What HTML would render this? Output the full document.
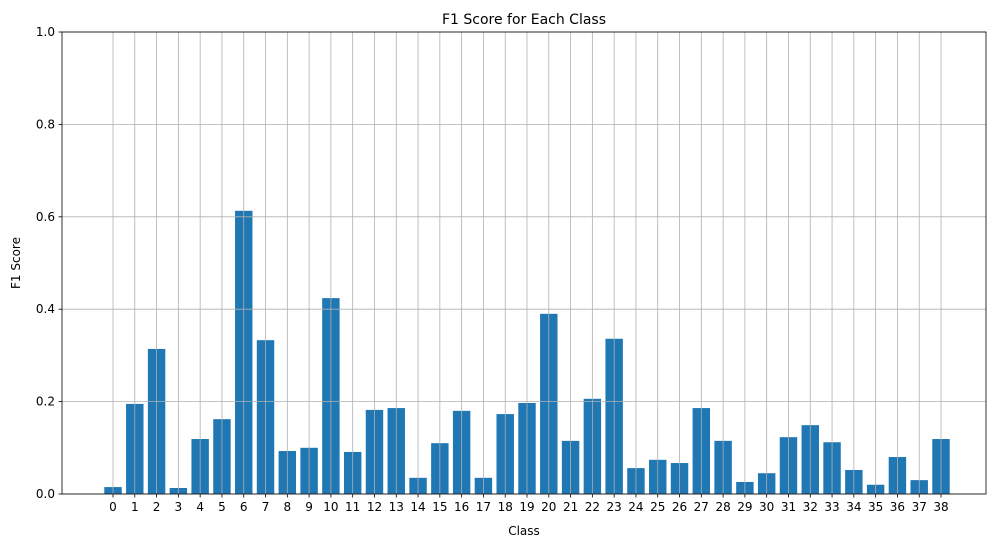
<!DOCTYPE html>
<html><head><meta charset="utf-8"><style>
body{margin:0;background:#fff;}
svg text{font-family:"DejaVu Sans","Liberation Sans",sans-serif;}
</style></head><body>
<svg id="chart" width="1001" height="547" viewBox="0 0 1001 547" xmlns="http://www.w3.org/2000/svg">
<rect width="1001" height="547" fill="#fff"/>
<g id="bars"></g>
<g id="grid"></g>
<g id="axes"></g>
<text x="524" y="24" text-anchor="middle" font-size="14">F1 Score for Each Class</text>
<text x="524" y="535" text-anchor="middle" font-size="12">Class</text>
<text x="20" y="263" text-anchor="middle" font-size="12" transform="rotate(-90 20 263)">F1 Score</text>
</svg>
<script>
const categories = Array.from({length:39},(_,i)=>String(i));
const f1Values = [0.015,0.195,0.314,0.013,0.119,0.162,0.613,0.333,0.093,0.1,0.424,0.091,0.182,0.186,0.035,0.11,0.18,0.035,0.173,0.197,0.39,0.115,0.206,0.336,0.056,0.074,0.067,0.186,0.115,0.026,0.045,0.123,0.149,0.112,0.052,0.02,0.08,0.03,0.119];
const yTicks = [0,0.2,0.4,0.6,0.8,1.0];
const yTickLabels = ["0.0","0.2","0.4","0.6","0.8","1.0"];

const NS="http://www.w3.org/2000/svg";
const L=62,R=986,T=32,B=494;
const step=(941-113)/38;
const xPos=i=>113+i*step;
const yPos=v=>B-(v/1.0)*(B-T);
function mk(tag,attrs,parent){const e=document.createElementNS(NS,tag);for(const k in attrs)e.setAttribute(k,attrs[k]);parent.appendChild(e);return e;}
const bars=document.getElementById('bars'),grid=document.getElementById('grid'),axes=document.getElementById('axes');
const bw=step*0.8;
f1Values.forEach((v,i)=>{
  const r=mk('rect',{x:xPos(i)-bw/2,y:yPos(v),width:bw,height:B-yPos(v),fill:'#1f77b4'},bars);
  
  
});
categories.forEach((c,i)=>{
  const x=xPos(i);
  const g=mk('line',{x1:x,x2:x,y1:T,y2:B,stroke:'#b0b0b0','stroke-width':0.8},grid);
  
  
  mk('line',{x1:x,x2:x,y1:B,y2:B+3.5,stroke:'#000','stroke-width':0.8},axes);
  const t=mk('text',{x:x,y:B+17,'text-anchor':'middle','font-size':12},axes);
  t.textContent=c;
  
  
});
yTicks.forEach((v,i)=>{
  const y=yPos(v);
  const g=mk('line',{x1:L,x2:R,y1:y,y2:y,stroke:'#b0b0b0','stroke-width':0.8},grid);
  
  
  mk('line',{x1:L-3.5,x2:L,y1:y,y2:y,stroke:'#000','stroke-width':0.8},axes);
  const t=mk('text',{x:L-7,y:y+4,'text-anchor':'end','font-size':12},axes);
  t.textContent=yTickLabels[i];
  
  
});
mk('rect',{x:L,y:T,width:R-L,height:B-T,fill:'none',stroke:'#000','stroke-width':0.8},axes);
</script>
</body></html>
